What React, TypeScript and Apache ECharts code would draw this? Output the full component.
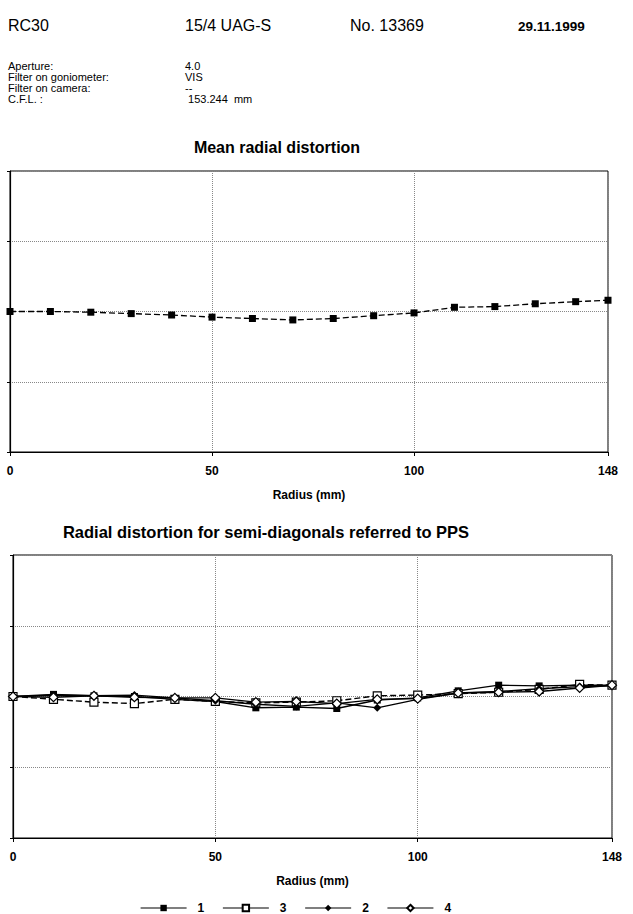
import React, { useEffect, useRef } from "react";
import * as echarts from "echarts";

const radius = [0, 10, 20, 30, 40, 50, 60, 70, 80, 90, 100, 110, 120, 130, 140, 148];
const meanDistortion = [0, 0, -0.05, -0.15, -0.25, -0.4, -0.5, -0.6, -0.5, -0.3, -0.1, 0.3, 0.35, 0.55, 0.7, 0.8];
const diag1 = [0, 0.15, 0.05, 0.0, -0.2, -0.35, -0.8, -0.75, -0.85, -0.25, -0.1, 0.4, 0.8, 0.75, 0.8, 0.8];
const diag3 = [0, -0.2, -0.4, -0.5, -0.2, -0.35, -0.45, -0.4, -0.3, 0.05, 0.1, 0.2, 0.3, 0.5, 0.85, 0.8];
const diag2 = [0, 0.1, 0.05, 0.1, -0.1, -0.3, -0.55, -0.7, -0.45, -0.8, -0.2, 0.25, 0.35, 0.55, 0.7, 0.75];
const diag4 = [0, -0.05, 0.05, -0.05, -0.1, -0.1, -0.4, -0.35, -0.5, -0.2, -0.15, 0.25, 0.3, 0.35, 0.6, 0.8];
const legendOrder = ["1", "3", "2", "4"];

const headerTexts = ["RC30", "15/4 UAG-S", "No. 13369", "29.11.1999"];
const infoLabels = ["Aperture:", "Filter on goniometer:", "Filter on camera:", "C.F.L. :"];
const infoValues = ["4.0", "VIS", "--", " 153.244  mm"];

const FONT = "'Liberation Sans', Arial, sans-serif";

function pairs(ys: number[]) {
  return radius.map((x, i) => [x, ys[i]]);
}

export default function App() {
  const ref = useRef<HTMLDivElement>(null);
  useEffect(() => {
    if (!ref.current) return;
    const chart = echarts.init(ref.current, null, { renderer: "svg" });
    const xAxisBase = (gridIndex: number) => ({
      type: "value",
      gridIndex,
      min: 0,
      max: 148,
      interval: 50,
      name: "Radius (mm)",
      nameLocation: "middle",
      nameGap: 37,
      nameTextStyle: { fontFamily: FONT, fontSize: 12, fontWeight: "bold", color: "#000" },
      axisLine: { show: true, onZero: false, lineStyle: { color: "#000", width: 1.2 } },
      axisTick: { show: true, inside: false, length: 4, lineStyle: { color: "#000" } },
      axisLabel: { show: true, fontFamily: FONT, fontSize: 12, fontWeight: "bold", color: "#000", margin: 13 },
      splitLine: { show: true, lineStyle: { color: "#888", type: "dotted", width: 1 } },
    });
    const yAxisBase = (gridIndex: number) => ({
      type: "value",
      gridIndex,
      min: -10,
      max: 10,
      interval: 5,
      axisLine: { show: true, onZero: false, lineStyle: { color: "#000", width: 1.2 } },
      axisTick: { show: true, inside: false, length: 3, lineStyle: { color: "#000" } },
      axisLabel: { show: false },
      splitLine: { show: true, lineStyle: { color: "#888", type: "dotted", width: 1 } },
    });
    const graphic: any[] = [];
    const hx = [8, 185, 350, 518];
    headerTexts.forEach((t, i) => {
      graphic.push({
        type: "text",
        left: hx[i],
        top: i === 3 ? 19 : 17,
        style: {
          text: t,
          fontFamily: FONT,
          fontSize: i === 3 ? 13.5 : 16,
          fontWeight: i === 3 ? "bold" : "normal",
          fill: "#000",
        },
      });
    });
    infoLabels.forEach((t, i) => {
      graphic.push({
        type: "text",
        left: 8,
        top: 60 + i * 11,
        style: { text: t, fontFamily: FONT, fontSize: 11, fill: "#000" },
      });
      graphic.push({
        type: "text",
        left: 185,
        top: 60 + i * 11,
        style: { text: infoValues[i], fontFamily: FONT, fontSize: 11, fill: "#000" },
      });
    });
    const option: any = {
      animation: false,
      backgroundColor: "#fff",
      title: [
        {
          text: "Mean radial distortion",
          left: 272,
          top: 134,
          textAlign: "center",
          textStyle: { fontFamily: FONT, fontSize: 16, fontWeight: "bold", color: "#000" },
        },
        {
          text: "Radial distortion for semi-diagonals referred to PPS",
          left: 261,
          top: 518,
          textAlign: "center",
          textStyle: { fontFamily: FONT, fontSize: 16.5, fontWeight: "bold", color: "#000" },
        },
      ],
      graphic,
      grid: [
        { left: 10, right: 25, top: 171, height: 281, show: true, borderColor: "#000", borderWidth: 1, backgroundColor: "transparent" },
        { left: 13, right: 21, top: 555, height: 283, show: true, borderColor: "#000", borderWidth: 1, backgroundColor: "transparent" },
      ],
      xAxis: [xAxisBase(0), xAxisBase(1)],
      yAxis: [yAxisBase(0), yAxisBase(1)],
      legend: {
        data: legendOrder,
        left: 140,
        top: 902,
        padding: 0,
        itemWidth: 46,
        itemHeight: 8,
        itemGap: 18,
        textStyle: { fontFamily: FONT, fontSize: 12, fontWeight: "bold", color: "#000", padding: [0, 0, 0, 6] },
        lineStyle: { type: "solid", width: 1.2, color: "#000" },
      },
      series: [
        {
          name: "mean",
          type: "line",
          xAxisIndex: 0,
          yAxisIndex: 0,
          data: pairs(meanDistortion),
          symbol: "rect",
          symbolSize: 7,
          itemStyle: { color: "#000" },
          lineStyle: { color: "#000", type: [6, 3], width: 1.3 },
        },
        {
          name: "1",
          type: "line",
          xAxisIndex: 1,
          yAxisIndex: 1,
          data: pairs(diag1),
          symbol: "rect",
          symbolSize: 7,
          itemStyle: { color: "#000" },
          lineStyle: { color: "#000", width: 1.4 },
        },
        {
          name: "3",
          type: "line",
          xAxisIndex: 1,
          yAxisIndex: 1,
          data: pairs(diag3),
          symbol: "rect",
          symbolSize: 8,
          itemStyle: { color: "#fff", borderColor: "#000", borderWidth: 1.2 },
          lineStyle: { color: "#000", type: [6, 3], width: 1.4 },
        },
        {
          name: "2",
          type: "line",
          xAxisIndex: 1,
          yAxisIndex: 1,
          data: pairs(diag2),
          symbol: "diamond",
          symbolSize: 8,
          itemStyle: { color: "#000" },
          lineStyle: { color: "#000", width: 1.4 },
        },
        {
          name: "4",
          type: "line",
          xAxisIndex: 1,
          yAxisIndex: 1,
          data: pairs(diag4),
          symbol: "diamond",
          symbolSize: 9,
          itemStyle: { color: "#fff", borderColor: "#000", borderWidth: 1.2 },
          lineStyle: { color: "#000", width: 1.4 },
        },
      ],
    };
    chart.setOption(option);
    return () => chart.dispose();
  }, []);
  return <div ref={ref} style={{ position: "fixed", left: 0, top: 0, width: 633, height: 914 }} />;
}
